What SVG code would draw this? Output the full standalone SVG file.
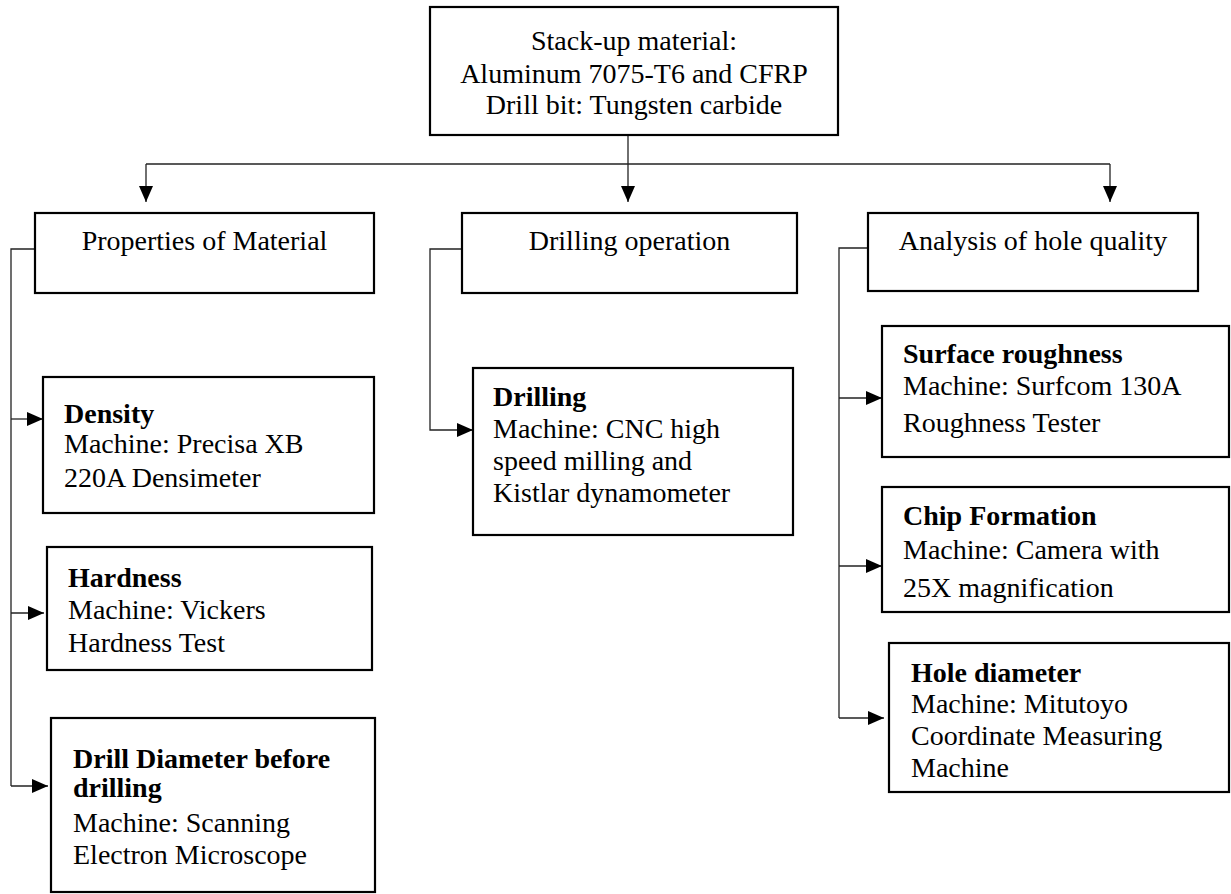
<svg xmlns="http://www.w3.org/2000/svg" width="1231" height="894" viewBox="0 0 1231 894">
<style>
.box{fill:#fff;stroke:#000;stroke-width:2.2}
.t{font-family:"Liberation Serif","Times New Roman",serif;font-size:28px;fill:#000}
.c{text-anchor:middle}
.b{font-weight:bold}
.con{fill:none;stroke:#222;stroke-width:1.3}
</style>
<defs>
<marker id="ah" viewBox="0 0 16 14" refX="16" refY="7" markerWidth="16" markerHeight="14" markerUnits="userSpaceOnUse" orient="auto">
<path d="M0,0 L16,7 L0,14 z" fill="#000"/>
</marker>
</defs>
<rect width="1231" height="894" fill="#fff"/>
<g id="connectors">
<path class="con" d="M628,135 V164"/>
<path class="con" d="M146,164 H1110"/>
<path class="con" d="M146,164 V202" marker-end="url(#ah)"/>
<path class="con" d="M628,164 V202" marker-end="url(#ah)"/>
<path class="con" d="M1110,164 V202" marker-end="url(#ah)"/>
<path class="con" d="M35,249 H11 V786"/>
<path class="con" d="M11,419 H43" marker-end="url(#ah)"/>
<path class="con" d="M11,613 H44" marker-end="url(#ah)"/>
<path class="con" d="M11,786 H48" marker-end="url(#ah)"/>
<path class="con" d="M462,249 H430 V430 H473" marker-end="url(#ah)"/>
<path class="con" d="M868,248 H839 V718"/>
<path class="con" d="M839,398 H882" marker-end="url(#ah)"/>
<path class="con" d="M839,566 H882" marker-end="url(#ah)"/>
<path class="con" d="M839,718 H884" marker-end="url(#ah)"/>
</g>
<g id="top">
<rect class="box" x="430" y="7" width="408" height="128"/>
<text class="t c" x="634" y="50">Stack-up material:</text>
<text class="t c" x="634" y="83">Aluminum 7075-T6 and CFRP</text>
<text class="t c" x="634" y="114">Drill bit: Tungsten carbide</text>
</g>
<g id="properties">
<rect class="box" x="35" y="213" width="339" height="80"/>
<text class="t c" x="204.5" y="250">Properties of Material</text>
</g>
<g id="drilling-operation">
<rect class="box" x="462" y="213" width="335" height="80"/>
<text class="t c" x="629.5" y="250">Drilling operation</text>
</g>
<g id="analysis">
<rect class="box" x="868" y="213" width="330" height="78"/>
<text class="t c" x="1033" y="250">Analysis of hole quality</text>
</g>
<g id="density">
<rect class="box" x="43" y="377" width="331" height="136"/>
<text class="t b" x="64" y="423">Density</text>
<text class="t" x="64" y="453">Machine: Precisa XB</text>
<text class="t" x="64" y="487">220A Densimeter</text>
</g>
<g id="hardness">
<rect class="box" x="47" y="547" width="325" height="123"/>
<text class="t b" x="68" y="587">Hardness</text>
<text class="t" x="68" y="619">Machine: Vickers</text>
<text class="t" x="68" y="652">Hardness Test</text>
</g>
<g id="drill-diameter">
<rect class="box" x="51" y="718" width="324" height="174"/>
<text class="t b" x="73" y="768">Drill Diameter before</text>
<text class="t b" x="73" y="797">drilling</text>
<text class="t" x="73" y="832">Machine: Scanning</text>
<text class="t" x="73" y="864">Electron Microscope</text>
</g>
<g id="drilling">
<rect class="box" x="473" y="368" width="320" height="167"/>
<text class="t b" x="493" y="406">Drilling</text>
<text class="t" x="493" y="438">Machine: CNC high</text>
<text class="t" x="493" y="470">speed milling and</text>
<text class="t" x="493" y="502">Kistlar dynamometer</text>
</g>
<g id="surface-roughness">
<rect class="box" x="882" y="326" width="347" height="131"/>
<text class="t b" x="903" y="363">Surface roughness</text>
<text class="t" x="903" y="395">Machine: Surfcom 130A</text>
<text class="t" x="903" y="432">Roughness Tester</text>
</g>
<g id="chip-formation">
<rect class="box" x="882" y="487" width="347" height="125"/>
<text class="t b" x="903" y="525">Chip Formation</text>
<text class="t" x="903" y="559">Machine: Camera with</text>
<text class="t" x="903" y="597">25X magnification</text>
</g>
<g id="hole-diameter">
<rect class="box" x="889" y="643" width="340" height="149"/>
<text class="t b" x="911" y="682">Hole diameter</text>
<text class="t" x="911" y="713">Machine: Mitutoyo</text>
<text class="t" x="911" y="745">Coordinate Measuring</text>
<text class="t" x="911" y="777">Machine</text>
</g>
</svg>
